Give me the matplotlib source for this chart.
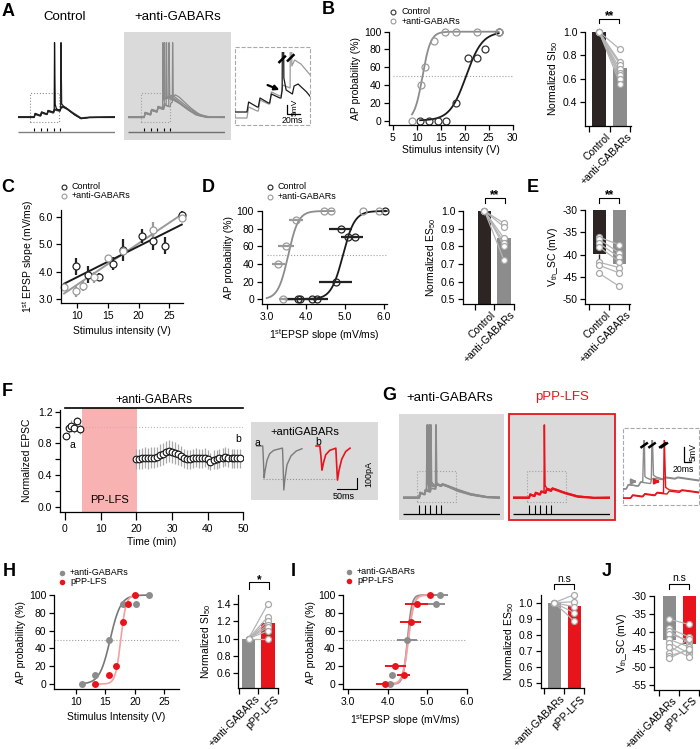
import numpy as np
import matplotlib
matplotlib.use('Agg')
import matplotlib.pyplot as plt
from matplotlib.patches import Rectangle, FancyArrowPatch
from matplotlib.lines import Line2D
from matplotlib.ticker import FormatStrFormatter
import matplotlib.transforms as mtransforms

plt.rcParams.update({
    'font.family': ['Liberation Sans', 'DejaVu Sans'],
    'font.size': 7.5,
    'axes.linewidth': 0.9,
    'axes.unicode_minus': False,
    'xtick.labelsize': 7.5, 'ytick.labelsize': 7.5,
    'xtick.major.size': 3.5, 'ytick.major.size': 3.5,
    'xtick.major.width': 0.9, 'ytick.major.width': 0.9,
    'xtick.minor.width': 0.9, 'ytick.minor.width': 0.9,
    'xtick.major.pad': 2.0, 'ytick.major.pad': 2.0,
    'axes.labelpad': 2.0,
    'mathtext.fontset': 'custom',
    'mathtext.rm': 'Liberation Sans',
    'mathtext.it': 'Liberation Sans:italic',
    'mathtext.bf': 'Liberation Sans:bold',
})

# ======================= DATA =======================
# --- A: example traces (ms, mV) ---
A_STIM_T = [50, 70, 90, 110, 130]
A_CTRL_T1 = [0, 50, 53, 68, 70, 73, 88, 90, 93, 108, 110, 112, 113, 115, 119, 130, 133, 140, 155, 175, 195, 220, 300]
A_CTRL_V1 = [-70, -70, -65, -67.5, -67.5, -63, -65.5, -65.5, -61, -63, -63, -59, 30, -53, -59, -61, -57, -56, -60, -67, -72, -70.5, -70]
A_CTRL_T2 = [0, 50, 53, 68, 70, 73, 88, 90, 93, 108, 110, 113, 128, 130, 132, 133, 135, 140, 150, 170, 195, 220, 300]
A_CTRL_V2 = [-70, -70, -65.5, -68, -68, -63.5, -66, -66, -61.5, -63.5, -63.5, -59.5, -61.5, -61.5, -58, 30, -52, -55, -58, -65, -72, -70.5, -70]
A_CTRL_T3 = [0, 50, 53, 68, 70, 73, 88, 90, 93, 108, 110, 113, 128, 130, 133, 140, 150, 170, 195, 220, 300]
A_CTRL_V3 = [-70.5, -70.5, -66.5, -68.5, -68.5, -64.5, -66.5, -66.5, -62.5, -64.5, -64.5, -60.5, -62, -62, -58, -57, -59, -65, -71.5, -70.5, -70.5]
A_CTRL_V4 = [-69.5, -69.5, -66, -68, -68, -64, -66, -66, -62, -63.5, -63.5, -59.5, -61, -61, -56.5, -55.5, -58, -64, -71, -70, -69.5]

A_ANTI_T1 = [0, 50, 53, 68, 70, 73, 88, 90, 93, 105, 107, 108, 110, 115, 125, 140, 160, 185, 210, 240, 300]
A_ANTI_V1 = [-70, -70, -64, -66, -66, -60, -62, -62, -56, -58, -57, 30, -47, -44, -45, -47, -52, -60, -67, -70, -70]
A_ANTI_T2 = [0, 50, 53, 68, 70, 73, 88, 90, 93, 108, 110, 112, 113, 115, 120, 130, 145, 165, 190, 215, 245, 300]
A_ANTI_V2 = [-70.5, -70.5, -64.5, -66.5, -66.5, -60.5, -62.5, -62.5, -57, -59, -59, -54, 30, -46, -43, -44, -47, -53, -61, -67, -70.5, -70.5]
A_ANTI_T3 = [0, 50, 53, 68, 70, 73, 88, 90, 93, 108, 110, 113, 118, 119, 121, 126, 136, 150, 170, 195, 220, 250, 300]
A_ANTI_V3 = [-69.5, -69.5, -63.5, -65.5, -65.5, -59.5, -61.5, -61.5, -55.5, -57.5, -57.5, -52, -53, 30, -45, -42, -43, -47, -54, -62, -68, -70, -69.5]
A_ANTI_T4 = [0, 50, 53, 68, 70, 73, 88, 90, 93, 108, 110, 113, 126, 127, 129, 134, 145, 160, 180, 205, 230, 260, 300]
A_ANTI_V4 = [-70, -70, -64.5, -66.5, -66.5, -61, -63, -63, -57, -59, -59, -53.5, -55, 30, -44, -41, -43, -48, -55, -63, -68, -70, -70]
A_ANTI_T5 = [0, 50, 53, 68, 70, 73, 88, 90, 93, 108, 110, 113, 128, 130, 133, 137, 138, 140, 146, 158, 175, 195, 220, 250, 300]
A_ANTI_V5 = [-70.5, -70.5, -65, -67, -67, -61, -63, -63, -57.5, -59.5, -59.5, -54, -56, -56, -51, -50, 30, -43, -40, -43, -50, -58, -66, -70, -70.5]

# --- B ---
B_CTRL_X = [10.7, 12.6, 14.4, 16.2, 18.1, 20.7, 22.5, 24.3, 27.1]
B_CTRL_Y = [0, 0, 0, 0, 20, 70, 70, 80, 100]
B_ANTI_X = [9.0, 10.9, 11.8, 13.5, 15.8, 18.1, 22.5, 27.1]
B_ANTI_Y = [0, 40, 60, 90, 100, 100, 100, 100]
B_FIT_CTRL = [20.3, 1.7]   # x50, slope
B_FIT_ANTI = [11.2, 0.85]
B_SI_MEANS = [1.0, 0.69]
B_SI_CTRL = [1.0, 1.0, 1.0, 1.0, 1.0, 1.0, 1.0, 1.0]
B_SI_ANTI = [0.85, 0.74, 0.72, 0.68, 0.65, 0.63, 0.60, 0.56]

# --- C ---
C_CTRL_X = [9.9, 11.8, 13.6, 15.8, 17.5, 20.5, 22.3, 24.3, 27.0]
C_CTRL_Y = [4.2, 3.9, 3.8, 4.3, 4.8, 5.3, 5.1, 4.95, 6.05]
C_CTRL_E = [0.3, 0.3, 0.15, 0.25, 0.4, 0.25, 0.3, 0.3, 0.15]
C_ANTI_X = [7.9, 9.9, 10.9, 12.8, 15.1, 17.5, 22.3, 27.0]
C_ANTI_Y = [3.45, 3.3, 3.5, 3.8, 4.5, 4.75, 5.5, 5.95]
C_ANTI_E = [0.1, 0.2, 0.2, 0.2, 0.1, 0.1, 0.3, 0.1]

# --- D ---
D_CTRL_X = [3.85, 3.81, 4.15, 4.29, 4.77, 4.89, 5.09, 5.26, 6.02]
D_CTRL_Y = [0, 0, 0, 0, 20, 80, 70, 70, 100]
D_CTRL_XE = [0.4, 0.0, 0.0, 0.28, 0.42, 0.29, 0.2, 0.2, 0.04]
D_ANTI_X = [3.41, 3.30, 3.49, 3.75, 4.47, 4.64, 5.47, 5.87]
D_ANTI_Y = [0, 40, 60, 90, 100, 100, 100, 100]
D_ANTI_XE = [0.1, 0.17, 0.2, 0.19, 0.0, 0.0, 0.0, 0.0]
D_FIT_CTRL = [4.95, 0.15]
D_FIT_ANTI = [3.55, 0.13]
D_ES_MEANS = [1.0, 0.845]
D_ES_CTRL = [1.0, 1.0, 1.0, 1.0, 1.0, 1.0]
D_ES_ANTI = [0.93, 0.91, 0.845, 0.82, 0.80, 0.72]

# --- E ---
E_MEANS = [-39.9, -42.1]
E_CTRL_SEM = 1.3
E_CTRL = [-36.1, -36.6, -37.5, -38.3, -41.7, -42.4, -44.2]
E_ANTI = [-37.8, -39.6, -40.6, -41.6, -42.9, -44.1, -47.1]

# --- F ---
F_PRE_T = [0.2, 1.0, 1.8, 2.6, 3.4, 4.2]
F_PRE_Y = [0.89, 0.99, 1.02, 0.99, 1.08, 0.98]
F_PRE_E = [0.03, 0.06, 0.08, 0.06, 0.05, 0.06]
F_POST_T = [20.0, 20.8, 21.7, 22.5, 23.3, 24.2, 25.0, 25.8, 26.7, 27.5, 28.3, 29.2,
            30.0, 30.8, 31.7, 32.5, 33.3, 34.2, 35.0, 35.8, 36.7, 37.5, 38.3, 39.2,
            40.0, 40.8, 41.7, 42.5, 43.3, 44.2, 45.0, 45.8, 46.7, 47.5, 48.3, 49.2]
F_POST_Y = [0.60, 0.60, 0.61, 0.62, 0.61, 0.62, 0.62, 0.63, 0.65, 0.67, 0.69, 0.70,
            0.69, 0.68, 0.66, 0.64, 0.61, 0.60, 0.60, 0.61, 0.62, 0.61, 0.61, 0.62,
            0.60, 0.57, 0.59, 0.60, 0.61, 0.62, 0.63, 0.62, 0.61, 0.61, 0.61, 0.61]
F_POST_E = [0.13, 0.13, 0.13, 0.13, 0.13, 0.13, 0.13, 0.13, 0.14, 0.14, 0.14, 0.14,
            0.14, 0.14, 0.13, 0.13, 0.12, 0.12, 0.12, 0.12, 0.12, 0.12, 0.12, 0.12,
            0.12, 0.11, 0.12, 0.12, 0.12, 0.12, 0.12, 0.12, 0.12, 0.12, 0.12, 0.12]
F_LFS = [4.7, 20.1]
F_EPSC_A_T = [22, 44, 46, 49, 53, 60, 70, 85, 116, 118, 120, 123, 127, 135, 150, 170, 191]
F_EPSC_A_V = [0, 0, -100, -290, -220, -130, -70, -40, -20, -20, -150, -400, -300, -170, -90, -45, -25]
F_EPSC_B_T = [244, 258, 262, 266, 272, 280, 295, 318, 320, 324, 330, 340, 355, 371]
F_EPSC_B_V = [0, 0, -90, -220, -150, -80, -40, -20, -120, -310, -220, -120, -50, -20]

# --- G traces (ms, mV) ---
G_STIM_T = [50, 67, 84, 101, 118]
G_ANTI_T1 = [0, 50, 53, 65, 67, 70, 73, 75, 76, 78, 84, 88, 101, 105, 118, 122, 140, 170, 210, 260, 300]
G_ANTI_V1 = [-70, -70, -63, -65, -65, -59, -58, 30, -50, -52, -55, -53, -55, -52, -54, -52, -55, -60, -65, -69, -70]
G_ANTI_T2 = [0, 50, 53, 65, 67, 70, 80, 81, 83, 88, 101, 105, 118, 122, 140, 170, 210, 260, 300]
G_ANTI_V2 = [-70.5, -70.5, -63.5, -65.5, -65.5, -59.5, -61, 30, -49, -53, -55, -52, -54, -52, -55, -61, -66, -69.5, -70.5]
G_ANTI_T3 = [0, 50, 53, 65, 67, 70, 82, 84, 85, 86, 88, 92, 101, 105, 118, 122, 140, 170, 210, 260, 300]
G_ANTI_V3 = [-69.5, -69.5, -63, -65, -65, -59, -61, -61, -56, 30, -48, -51, -54, -51, -53, -51, -54, -59, -65, -69, -69.5]
G_ANTI_T4 = [0, 50, 53, 65, 67, 70, 82, 84, 87, 99, 101, 102, 104, 108, 118, 122, 140, 170, 210, 260, 300]
G_ANTI_V4 = [-70, -70, -63.5, -65.5, -65.5, -60, -62, -62, -57, -58, -58, 30, -49, -52, -54, -52, -54, -60, -66, -69.5, -70]
G_LFS_T1 = [0, 50, 53, 65, 67, 70, 82, 84, 87, 96, 97, 99, 104, 118, 122, 135, 160, 200, 250, 300]
G_LFS_V1 = [-70, -70, -65, -67, -67, -63, -65, -65, -61, -62, 30, -53, -57, -59, -57, -59, -63, -68, -70, -70]
G_LFS_T2 = [0, 50, 53, 65, 67, 70, 82, 84, 87, 99, 101, 104, 118, 122, 135, 160, 200, 250, 300]
G_LFS_V2 = [-70.5, -70.5, -66, -68, -68, -64, -66, -66, -62, -63.5, -63.5, -59, -61, -58, -60, -64, -69, -70.5, -70.5]
G_LFS_V3 = [-69.5, -69.5, -65.5, -67.5, -67.5, -63, -65, -65, -61.5, -63, -63, -58, -60, -57, -59, -63, -68, -70, -69.5]

# --- H ---
H_ANTI_X = [10.96, 13.3, 15.66, 17.9, 20.2, 22.4]
H_ANTI_Y = [0, 10, 50, 90, 90, 100]
H_LFS_X = [13.3, 15.66, 16.8, 17.9, 18.9, 20.1]
H_LFS_Y = [0, 10, 20, 70, 90, 100]
H_FIT_ANTI = [15.8, 0.9]
H_FIT_LFS = [17.6, 0.45]
H_SI_MEANS = [1.0, 1.18]
H_SI_ANTI = [1.0, 1.0, 1.0, 1.0, 1.0, 1.0, 1.0]
H_SI_LFS = [1.40, 1.25, 1.20, 1.16, 1.13, 1.09, 1.00]

# --- I ---
I_ANTI_X = [4.05, 4.11, 4.48, 5.21, 5.32]
I_ANTI_Y = [0, 10, 50, 90, 100]
I_ANTI_XE = [0.03, 0.05, 0.25, 0.25, 0.2]
I_LFS_X = [3.93, 4.19, 4.40, 4.58, 4.73, 5.07]
I_LFS_Y = [0, 20, 10, 70, 90, 100]
I_LFS_XE = [0.23, 0.26, 0.17, 0.27, 0.3, 0.05]
I_FIT_ANTI = [4.5, 0.055]
I_FIT_LFS = [4.52, 0.07]
I_ES_MEANS = [1.0, 0.98]
I_ES_ANTI = [1.0, 1.0, 1.0, 1.0, 1.0]
I_ES_LFS = [1.05, 1.006, 0.975, 0.938, 0.887]

# --- J ---
J_MEANS = [-42.4, -43.6]
J_ANTI = [-36.5, -39.1, -39.7, -40.7, -42.2, -43.1, -44.2, -45.9, -46.8, -47.5]
J_LFS = [-38.0, -41.5, -43.3, -42.4, -44.3, -46.1, -47.1, -42.0, -45.2, -44.8]

# ======================= STYLE =======================
DARK = '#2d2424'
GRAY = '#8c8c8c'
LGRAY = '#b4b4b4'
RED = '#e8141c'
PINK = '#f4a0a0'
BOXC = '#dadada'

W, H = 700, 749
fig = plt.figure(figsize=(7.0, 7.49), dpi=100)


def axpx(l, t, r, b):
    ax = fig.add_axes([l / W, 1 - b / H, (r - l) / W, (b - t) / H])
    ax.patch.set_alpha(0)
    return ax


def clean(ax):
    for s in ('top', 'right'):
        ax.spines[s].set_visible(False)
    ax.tick_params(direction='out', length=3.5, width=0.9, pad=2)


def ftext(x, y, s, **kw):
    fig.text(x / W, 1 - y / H, s, **kw)


def frect(l, t, r, b, **kw):
    fig.add_artist(Rectangle((l / W, 1 - b / H), (r - l) / W, (b - t) / H,
                             transform=fig.transFigure, **kw))


def fline(xs, ys, **kw):
    fig.add_artist(Line2D([x / W for x in xs], [1 - y / H for y in ys],
                          transform=fig.transFigure, **kw))


def farrow(x0, y0, x1, y1, color='k'):
    fig.add_artist(FancyArrowPatch((x0 / W, 1 - y0 / H), (x1 / W, 1 - y1 / H),
                                   transform=fig.transFigure, arrowstyle='-|>',
                                   mutation_scale=7, color=color, lw=1.6))


def fmark(x, y, **kw):
    fig.add_artist(Line2D([x / W], [1 - y / H], transform=fig.transFigure, **kw))


def letter(x, y, s):
    ftext(x, y, s, fontsize=13, fontweight='bold', ha='center', va='center')


def boltz(x, x50, k):
    return 100.0 / (1.0 + np.exp((x50 - x) / k))


def sig(x0, x1, ybot, ytop, txt, ytxt, bold=True, fs=8.5):
    fline([x0, x0, x1, x1], [ybot, ytop, ytop, ybot], color='k', lw=0.8)
    ftext((x0 + x1) / 2, ytxt, txt, ha='center', va='baseline', fontsize=fs,
          fontweight='bold' if bold else 'normal')


def slash(ax, tx, ms_per_px, yc, hfrac):
    tr = mtransforms.blended_transform_factory(ax.transData, ax.transAxes)
    dx = 3.7 * ms_per_px
    ax.plot([tx - dx, tx + dx], [yc - hfrac / 2, yc + hfrac / 2], color='k', lw=1.8,
            transform=tr, clip_on=False, solid_capstyle='butt')


def bar_panel(ax, means, colors, left_pts, right_pts, width, xlim, ylim, yticks,
              yfmt, ylabel, labels, base=0.0, lab_off=0.3):
    clean(ax)
    ax.bar([0, 1], [m - base for m in means], bottom=base, width=width,
           color=colors, zorder=1, linewidth=0)
    for a, b in zip(left_pts, right_pts):
        ax.plot([0, 1], [a, b], color=LGRAY, lw=0.9, zorder=2, clip_on=False)
    ax.plot([0] * len(left_pts), left_pts, 'o', ms=4.3, mfc='white', mec='#a8a8a8',
            mew=0.9, zorder=3, clip_on=False)
    ax.plot([1] * len(right_pts), right_pts, 'o', ms=4.3, mfc='white', mec='#a8a8a8',
            mew=0.9, zorder=3, clip_on=False)
    ax.set_xlim(*xlim)
    ax.set_ylim(*ylim)
    ax.set_yticks(yticks)
    ax.yaxis.set_major_formatter(FormatStrFormatter(yfmt))
    ax.set_xticks([-0.5, 0.5, 1.5], minor=True)
    ax.tick_params(axis='x', which='minor', length=4, width=0.9)
    ax.set_xticks([lab_off, 1 + lab_off])
    ax.set_xticklabels(labels, rotation=45, ha='right', rotation_mode='anchor')
    ax.tick_params(axis='x', which='major', length=0, pad=4)
    ax.set_ylabel(ylabel)


def sig_curve_axes(ax, xlim, xticks, xfmt):
    clean(ax)
    ax.set_xlim(*xlim)
    ax.set_xticks(xticks)
    if xfmt:
        ax.xaxis.set_major_formatter(FormatStrFormatter(xfmt))
    ax.set_yticks([0, 20, 40, 60, 80, 100])


# ======================= A =======================
letter(8, 12, 'A')
ftext(65, 17, 'Control', fontsize=9.5, ha='center', va='center')
ftext(178, 17, '+anti-GABARs', fontsize=9.5, ha='center', va='center')
frect(124, 32, 231, 140, facecolor=BOXC, edgecolor='none', zorder=-1)

axA1 = axpx(18, 30, 115, 135)
axA1.set_xlim(0, 300); axA1.set_ylim(-94, 47); axA1.axis('off')
axA1.plot(A_CTRL_T3, A_CTRL_V3, color='#555555', lw=0.9)
axA1.plot(A_CTRL_T3, A_CTRL_V4, color='#444444', lw=0.9)
axA1.plot(A_CTRL_T1, A_CTRL_V1, color='#111111', lw=0.9)
axA1.plot(A_CTRL_T2, A_CTRL_V2, color='#222222', lw=0.9)
axA1.add_patch(Rectangle((37, -77), 90, 39, fill=False, ls=':', ec='#909090', lw=0.8))
axA1.vlines(A_STIM_T, -89, -84, color='k', lw=0.8)
axA1.hlines(-90.3, 0, 300, color='#808080', lw=1.0)

axA2 = axpx(128, 30, 225, 135)
axA2.set_xlim(0, 300); axA2.set_ylim(-94, 47); axA2.axis('off')
for tt, vv in [(A_ANTI_T1, A_ANTI_V1), (A_ANTI_T2, A_ANTI_V2), (A_ANTI_T3, A_ANTI_V3),
               (A_ANTI_T4, A_ANTI_V4), (A_ANTI_T5, A_ANTI_V5)]:
    axA2.plot(tt, vv, color='#8a8a8a', lw=0.9)
axA2.add_patch(Rectangle((40, -77), 90, 39, fill=False, ls=':', ec='#a0a0a0', lw=0.8))
axA2.vlines(A_STIM_T, -89, -84, color='k', lw=0.8)
axA2.hlines(-90.3, 0, 300, color='#707070', lw=1.0)

# A inset
frect(235, 47, 310, 125, facecolor='none', edgecolor='#a8a8a8', lw=0.8, ls='--', zorder=-1)
axA3 = axpx(235, 52, 310, 125)
axA3.set_xlim(29, 161); axA3.set_ylim(-76.5, -40); axA3.axis('off')
A_INSET_DV = -3.0
axA3.plot(A_ANTI_T4, [v + A_INSET_DV for v in A_ANTI_V4], color='#9a9a9a', lw=0.9)
axA3.plot(A_CTRL_T1, A_CTRL_V1, color='#1a1a1a', lw=0.9)
slash(axA3, 112, 1.76, 0.9, 0.1)
slash(axA3, 127, 1.76, 0.92, 0.1)
farrow(265, 84, 282, 91)
fline([287, 287, 300], [105, 113.5, 113.5], color='k', lw=0.9)
ftext(295.5, 107, '5mV', rotation=90, fontsize=6, ha='center', va='center')
ftext(292, 120.5, '20ms', fontsize=6.3, ha='center', va='center')

# ======================= B =======================
letter(328, 10, 'B')
axB = axpx(389, 31.7, 513, 125)
sig_curve_axes(axB, (4.2, 30.1), [5, 10, 15, 20, 25, 30], None)
axB.set_ylim(-5, 100)
axB.plot([5, 30], [50, 50], color='#a0a0a0', ls=':', lw=0.8)
xs = np.linspace(B_ANTI_X[0], B_ANTI_X[-1], 300)
axB.plot(xs, boltz(xs, *B_FIT_ANTI), color='#8c8c8c', lw=1.3, clip_on=False)
xs = np.linspace(B_CTRL_X[0], B_CTRL_X[-1], 300)
axB.plot(xs, boltz(xs, *B_FIT_CTRL), color='#1a1a1a', lw=1.3, clip_on=False)
axB.plot(B_CTRL_X, B_CTRL_Y, 'o', ms=5, mfc='none', mec='#333333', mew=0.9, clip_on=False)
axB.plot(B_ANTI_X, B_ANTI_Y, 'o', ms=5, mfc='none', mec='#9a9a9a', mew=0.9, clip_on=False)
axB.set_xlabel('Stimulus intensity (V)')
axB.set_ylabel('AP probability (%)')
fmark(393, 12, marker='o', ms=3.5, mfc='none', mec='#333333', mew=0.8)
ftext(402, 12, 'Control', fontsize=6.5, va='center')
fmark(393, 21, marker='o', ms=3.5, mfc='none', mec='#9a9a9a', mew=0.8)
ftext(402, 21, '+anti-GABARs', fontsize=6.5, va='center')

axB2 = axpx(585, 31.7, 631, 126)
bar_panel(axB2, B_SI_MEANS, [DARK, GRAY], B_SI_CTRL, B_SI_ANTI, 0.667, (-0.667, 1.524),
          (0.2, 1.0), [0.4, 0.6, 0.8, 1.0], '%.1f', r'Normalized SI$_{50}$',
          ['Control', '+anti-GABARs'])
sig(599.3, 619.3, 23, 18.5, '**', 19.5)

# ======================= C =======================
letter(8, 187, 'C')
axC = axpx(61, 210, 183, 303)
clean(axC)
axC.set_xlim(7.4, 27.2); axC.set_ylim(2.87, 6.24)
axC.set_xticks([10, 15, 20, 25]); axC.set_yticks([3.0, 4.0, 5.0, 6.0])
axC.yaxis.set_major_formatter(FormatStrFormatter('%.1f'))
pc = np.polyfit(C_CTRL_X, C_CTRL_Y, 1)
pa = np.polyfit(C_ANTI_X, C_ANTI_Y, 1)
xs = np.array([C_ANTI_X[0], C_ANTI_X[-1]])
axC.plot(xs, np.polyval(pa, xs), color='#9a9a9a', lw=1.4)
axC.plot(xs, np.polyval(pc, xs), color='#1a1a1a', lw=1.4)
axC.errorbar(C_CTRL_X, C_CTRL_Y, yerr=C_CTRL_E, fmt='o', ms=5, mfc='white', mec='#222222',
             mew=0.9, ecolor='#222222', elinewidth=1.6, capsize=0, clip_on=False)
axC.errorbar(C_ANTI_X, C_ANTI_Y, yerr=C_ANTI_E, fmt='o', ms=5, mfc='white', mec='#9a9a9a',
             mew=0.9, ecolor='#9a9a9a', elinewidth=1.6, capsize=0, clip_on=False)
axC.set_xlabel('Stimulus intensity (V)', labelpad=4)
axC.set_ylabel(r'1$^{\mathrm{st}}$ EPSP slope (mV/ms)')
fmark(64, 186.7, marker='o', ms=3.5, mfc='none', mec='#222222', mew=0.8)
ftext(72, 186.7, 'Control', fontsize=6.5, va='center')
fmark(64, 196, marker='o', ms=3.5, mfc='none', mec='#9a9a9a', mew=0.8)
ftext(72, 196, '+anti-GABARs', fontsize=6.5, va='center')

# ======================= D =======================
letter(208, 187, 'D')
axD = axpx(261.7, 211, 386.7, 304)
sig_curve_axes(axD, (2.872, 6.07), [3.0, 4.0, 5.0, 6.0], '%.1f')
axD.set_ylim(-5.3, 100)
axD.plot([3.0, 6.07], [50, 50], color='#a0a0a0', ls=':', lw=0.8)
xs = np.linspace(3.0, 4.7, 300)
axD.plot(xs, boltz(xs, *D_FIT_ANTI), color='#8c8c8c', lw=1.3, clip_on=False)
xs = np.linspace(3.5, 6.07, 300)
axD.plot(xs, boltz(xs, *D_FIT_CTRL), color='#1a1a1a', lw=1.3, clip_on=False)
axD.errorbar(D_CTRL_X, D_CTRL_Y, xerr=D_CTRL_XE, fmt='o', ms=5, mfc='none', mec='#222222',
             mew=0.9, ecolor='#222222', elinewidth=1.6, capsize=0, clip_on=False)
axD.errorbar(D_ANTI_X, D_ANTI_Y, xerr=D_ANTI_XE, fmt='o', ms=5, mfc='none', mec='#9a9a9a',
             mew=0.9, ecolor='#9a9a9a', elinewidth=1.6, capsize=0, clip_on=False)
axD.set_xlabel(r'1$^{\mathrm{st}}$EPSP slope (mV/ms)', labelpad=4)
axD.set_ylabel('AP probability (%)')
fmark(270, 186.7, marker='o', ms=3.5, mfc='none', mec='#222222', mew=0.8)
ftext(278, 186.7, 'Control', fontsize=6.5, va='center')
fmark(270, 196.5, marker='o', ms=3.5, mfc='none', mec='#9a9a9a', mew=0.8)
ftext(278, 196.5, '+anti-GABARs', fontsize=6.5, va='center')

axD2 = axpx(463, 211, 514, 304)
bar_panel(axD2, D_ES_MEANS, [DARK, GRAY], D_ES_CTRL, D_ES_ANTI, 0.68, (-1.10, 1.51),
          (0.473, 1.0), [0.5, 0.6, 0.7, 0.8, 0.9, 1.0], '%.1f', r'Normalized ES$_{50}$',
          ['Control', '+anti-GABARs'])
sig(485, 505, 203, 198, '**', 198.5)

# ======================= E =======================
letter(533, 187, 'E')
axE = axpx(585, 210, 630, 304)
bar_panel(axE, E_MEANS, [DARK, GRAY], E_CTRL, E_ANTI, 0.665, (-0.715, 1.535),
          (-51.05, -30), [-50, -45, -40, -35, -30], '%d', r'V$_{\mathrm{th}}$_SC (mV)',
          ['Control', '+anti-GABARs'], base=-30)
axE.errorbar([0], [E_MEANS[0]], yerr=[[E_CTRL_SEM], [0]], fmt='none', ecolor=DARK,
             elinewidth=1.0, capsize=0, zorder=1.5)
sig(599.3, 619.3, 203, 198, '**', 198.5)

# ======================= F =======================
letter(7, 391, 'F')
axF = axpx(60, 407.7, 243.3, 512)
clean(axF)
axF.set_xlim(-1.4, 50); axF.set_ylim(-0.067, 1.25)
axF.spines['left'].set_bounds(-0.067, 1.22)
axF.axvspan(F_LFS[0], F_LFS[1], color='#f8b2b2', lw=0, zorder=0)
axF.plot([0, 50], [1.0, 1.0], color='#b8b8b8', ls=':', lw=0.8, zorder=0.5)
axF.plot([0, 50], [1.25, 1.25], color='k', lw=1.2, clip_on=False)
axF.errorbar(F_PRE_T, F_PRE_Y, yerr=F_PRE_E, fmt='o', ms=4.8, mfc='white', mec='#111111',
             mew=0.8, ecolor='#a8a8a8', elinewidth=0.9, capsize=0, zorder=3)
axF.errorbar(F_POST_T, F_POST_Y, yerr=F_POST_E, fmt='o', ms=4.8, mfc='white', mec='#111111',
             mew=0.8, ecolor='#a8a8a8', elinewidth=0.9, capsize=0, zorder=3)
axF.set_xticks([0, 10, 20, 30, 40, 50])
axF.set_yticks([0.0, 0.4, 0.8, 1.2])
axF.set_yticks([0.2, 0.6, 1.0], minor=True)
axF.yaxis.set_major_formatter(FormatStrFormatter('%.1f'))
axF.tick_params(axis='x', length=6, pad=3)
axF.tick_params(axis='y', which='minor', length=3.5, width=0.9)
axF.set_xlabel('Time (min)')
axF.set_ylabel('Normalized EPSC', labelpad=4)
axF.text(sum(F_LFS) / 2, 0.08, 'PP-LFS', ha='center', va='center', fontsize=8)
axF.text(25, 1.27, '+anti-GABARs', ha='center', va='bottom', fontsize=8.5)
axF.text(2.2, 0.78, 'a', ha='center', va='center', fontsize=7.5)
axF.text(48.6, 0.85, 'b', ha='center', va='center', fontsize=7.5)

frect(251, 422, 378, 500, facecolor=BOXC, edgecolor='none', zorder=-1)
axF2 = axpx(251, 422, 378, 500)
axF2.set_xlim(0, 476); axF2.set_ylim(-491, 218); axF2.axis('off')
axF2.plot([45, 330], [-300, -300], color='#909090', ls=':', lw=0.8)
axF2.plot(F_EPSC_A_T, F_EPSC_A_V, color='#7a7a7a', lw=1.0)
axF2.plot(F_EPSC_B_T, F_EPSC_B_V, color=RED, lw=1.2)
ftext(305, 432, '+antiGABARs', fontsize=8, ha='center', va='center')
ftext(257, 443, 'a', fontsize=7.5, ha='center', va='center')
ftext(318, 442, 'b', fontsize=7.5, ha='center', va='center')
fline([337, 357, 357], [489.5, 489.5, 478], color='k', lw=0.8)
ftext(369, 474, '100pA', rotation=90, fontsize=6.5, ha='center', va='center')
ftext(344, 496.5, '50ms', fontsize=6.5, ha='center', va='center')

# ======================= G =======================
letter(389, 395, 'G')
ftext(450, 398, '+anti-GABARs', fontsize=9.5, ha='center', va='center')
ftext(562, 397, 'pPP-LFS', fontsize=9.5, ha='center', va='center', color=RED)
frect(399, 414, 504, 520, facecolor=BOXC, edgecolor='none', zorder=-1)
frect(509, 414, 615, 520, facecolor=BOXC, edgecolor=RED, lw=1.3, zorder=-1)

axG1 = axpx(403, 414, 500, 520)
axG1.set_xlim(0, 300); axG1.set_ylim(-100.7, 45); axG1.axis('off')
for tt, vv in [(G_ANTI_T1, G_ANTI_V1), (G_ANTI_T2, G_ANTI_V2), (G_ANTI_T3, G_ANTI_V3),
               (G_ANTI_T4, G_ANTI_V4)]:
    axG1.plot(tt, vv, color='#8a8a8a', lw=1.3)
axG1.add_patch(Rectangle((42, -75.5), 122, 41.5, fill=False, ls=':', ec='#a0a0a0', lw=0.8))
axG1.vlines(G_STIM_T, -92.4, -80, color='k', lw=0.8)
axG1.hlines(-92.4, 0, 300, color='k', lw=0.9)

axG2 = axpx(513, 414, 610, 520)
axG2.set_xlim(0, 300); axG2.set_ylim(-100.7, 45); axG2.axis('off')
axG2.plot(G_LFS_T2, G_LFS_V2, color=RED, lw=1.3)
axG2.plot(G_LFS_T2, G_LFS_V3, color=RED, lw=1.3)
axG2.plot(G_LFS_T1, G_LFS_V1, color=RED, lw=1.1)
axG2.add_patch(Rectangle((42, -75.5), 122, 41.5, fill=False, ls=':', ec='#a0a0a0', lw=0.8))
axG2.vlines(G_STIM_T, -92.4, -80, color='k', lw=0.8)
axG2.hlines(-92.4, 0, 300, color='k', lw=0.9)

frect(622.7, 428.3, 699.3, 505, facecolor='none', edgecolor='#a8a8a8', lw=0.8, ls='--', zorder=-1)
axG3 = axpx(622.7, 440, 699.3, 505)
axG3.set_xlim(45, 152); axG3.set_ylim(-95.6, 8.4); axG3.axis('off')
G_INSET_DT = 6.0
G_INSET_DV = -14.4
axG3.plot(G_ANTI_T1, G_ANTI_V1, color='#8a8a8a', lw=1.0)
axG3.plot(G_ANTI_T3, G_ANTI_V3, color='#8a8a8a', lw=1.0)
axG3.plot([t + G_INSET_DT for t in G_LFS_T2], [v + G_INSET_DV for v in G_LFS_V2], color=RED, lw=1.0)
axG3.plot([t + G_INSET_DT for t in G_LFS_T1], [v + G_INSET_DV for v in G_LFS_V1], color=RED, lw=1.0)
for sx in [75, 86, 97 + G_INSET_DT - 2, 97 + G_INSET_DT]:
    slash(axG3, sx, 1.4, 0.92, 0.08)
farrow(630, 481.5, 640, 481.5, color='#8a8a8a')
farrow(654, 481.5, 663, 481.5, color=RED)
fline([684, 684, 690.5], [447.3, 461.7, 461.7], color='k', lw=0.9)
ftext(693.5, 452, '5mV', rotation=90, fontsize=6.3, ha='center', va='center')
ftext(683.5, 469.5, '20ms', fontsize=6.3, ha='center', va='center')

# ======================= H =======================
letter(9, 571, 'H')
axH = axpx(54, 595, 179, 689)
sig_curve_axes(axH, (6.26, 27.5), [10, 15, 20, 25], None)
axH.set_ylim(-5.6, 100)
axH.plot([6.26, 27.5], [50, 50], color='#a0a0a0', ls=':', lw=0.8)
xs = np.linspace(H_ANTI_X[0], H_ANTI_X[-1], 300)
axH.plot(xs, boltz(xs, *H_FIT_ANTI), color='#777777', lw=1.2, clip_on=False)
xs = np.linspace(H_LFS_X[0], H_LFS_X[-1], 300)
axH.plot(xs, boltz(xs, *H_FIT_LFS), color=PINK, lw=1.2, clip_on=False)
axH.plot(H_ANTI_X, H_ANTI_Y, 'o', ms=5, color='#8c8c8c', mec='none', clip_on=False)
axH.plot(H_LFS_X, H_LFS_Y, 'o', ms=5, color=RED, mec='none', clip_on=False)
axH.set_xlabel('Stimulus Intensity (V)', labelpad=4)
axH.set_ylabel('AP probability (%)')
fmark(62, 572.7, marker='o', ms=4, color='#8c8c8c', mec='none')
ftext(70, 572.7, '+anti-GABARs', fontsize=6.5, va='center')
fmark(62, 581.7, marker='o', ms=4, color=RED, mec='none')
ftext(70, 581.7, 'pPP-LFS', fontsize=6.5, va='center')

axH2 = axpx(238.3, 595, 278, 688.3)
bar_panel(axH2, H_SI_MEANS, [GRAY, RED], H_SI_ANTI, H_SI_LFS, 0.715, (-0.53, 1.52),
          (0.43, 1.5), [0.6, 0.8, 1.0, 1.2, 1.4], '%.1f', r'Normalized SI$_{50}$',
          ['+anti-GABARs', 'pPP-LFS'])
sig(248.9, 268.9, 588.5, 582, '*', 583.5)

# ======================= I =======================
letter(293, 571, 'I')
axI = axpx(343.3, 595, 466.7, 689)
sig_curve_axes(axI, (2.873, 6.0), [3.0, 4.0, 5.0, 6.0], '%.1f')
axI.set_ylim(-5.6, 100)
axI.plot([2.873, 6.0], [50, 50], color='#a0a0a0', ls=':', lw=0.8)
xs = np.linspace(4.0, 5.3, 300)
axI.plot(xs, boltz(xs, *I_FIT_ANTI), color='#8c8c8c', lw=1.3, clip_on=False)
axI.plot(xs, boltz(xs, *I_FIT_LFS), color=PINK, lw=1.5, clip_on=False)
axI.errorbar(I_ANTI_X, I_ANTI_Y, xerr=I_ANTI_XE, fmt='o', ms=5, color='#8c8c8c', mec='none',
             ecolor='#8c8c8c', elinewidth=1.4, capsize=0, clip_on=False)
axI.errorbar(I_LFS_X, I_LFS_Y, xerr=I_LFS_XE, fmt='o', ms=5, color=RED, mec='none',
             ecolor=RED, elinewidth=1.4, capsize=0, clip_on=False)
axI.set_xlabel(r'1$^{\mathrm{st}}$EPSP slope (mV/ms)', labelpad=4)
axI.set_ylabel('AP probability (%)')
fmark(349, 571.7, marker='o', ms=4, color='#8c8c8c', mec='none')
ftext(357, 571.7, '+anti-GABARs', fontsize=6.5, va='center')
fmark(349, 580.7, marker='o', ms=4, color=RED, mec='none')
ftext(357, 580.7, 'pPP-LFS', fontsize=6.5, va='center')

axI2 = axpx(540.7, 595, 584, 688.3)
bar_panel(axI2, I_ES_MEANS, [GRAY, RED], I_ES_ANTI, I_ES_LFS, 0.65, (-0.675, 1.49),
          (0.469, 1.048), [0.5, 0.6, 0.7, 0.8, 0.9, 1.0], '%.1f', r'Normalized ES$_{50}$',
          ['+anti-GABARs', 'pPP-LFS'])
sig(554.2, 574.2, 588.5, 584, 'n.s', 581.5, bold=False, fs=7.5)

# ======================= J =======================
letter(607, 571, 'J')
axJ = axpx(654.3, 596, 699, 690)
bar_panel(axJ, J_MEANS, [GRAY, RED], J_ANTI, J_LFS, 0.65, (-0.745, 1.49),
          (-56.4, -30), [-55, -50, -45, -40, -35, -30], '%d', r'V$_{\mathrm{th}}$_SC (mV)',
          ['+anti-GABARs', 'pPP-LFS'], base=-30, lab_off=0.15)
sig(669.2, 689.2, 588.5, 584, 'n.s', 581, bold=False, fs=7.5)

fig.savefig('out.png', dpi=100)
